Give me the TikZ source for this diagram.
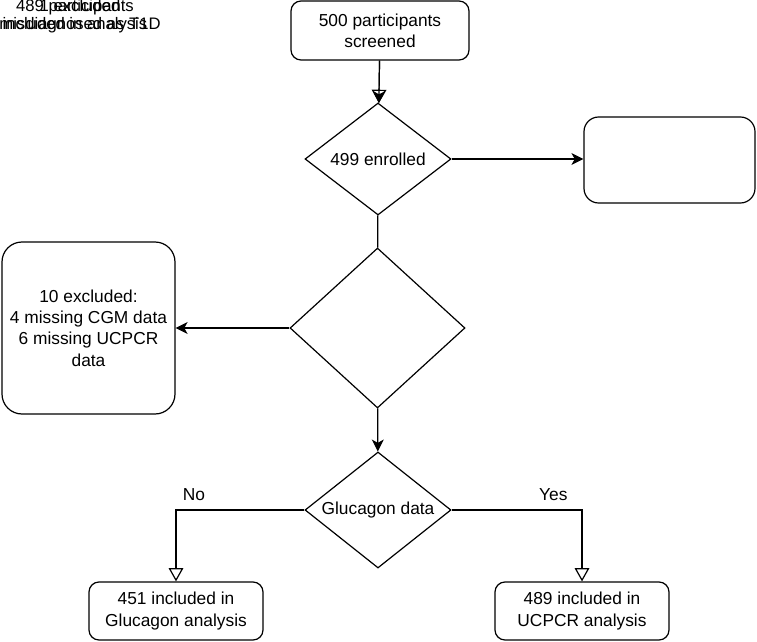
\documentclass[tikz,border=0pt]{standalone}
\usepackage{fontspec}
\setmainfont{Liberation Sans}
\usetikzlibrary{shapes.geometric}
\usetikzlibrary{arrows.meta}

\begin{document}
\begin{tikzpicture}[x=0.75pt, y=-0.75pt, font=\fontsize{13pt}{16pt}\selectfont]
        % ================= 样式定义 =================
        \tikzset{
            box/.style={rectangle, draw=black, line width=0.9pt, rounded corners=7.5pt, align=center, inner sep=0pt},
            dec/.style={diamond, draw=black, line width=0.9pt, aspect=1.3, inner sep=0pt, align=center},
            flow/.style={line width=0.9pt, -{Stealth[length=9pt, width=9pt, inset=2.5pt]}},
            branch/.style={line width=0.9pt, -{Triangle[open, length=10pt, width=11pt]}},
            note/.style={align=center, inner sep=0pt, font=\fontsize{12.5pt}{13.5pt}\selectfont}
        }

        \useasboundingbox (0,0) rectangle (757,642);

        % ================= 左上角:重叠文字 =================
        \node[note] (incl) at (75,16) {489 participants\\included in analysis};
        \node[note] (misd) at (80,16) {1 excluded\\misdiagnosed as T1D};

        % ================= 主干 =================
        \node[box, minimum width=133.5pt, minimum height=44.25pt] (screen) at (380,30.5) {500 participants\\screened};
        \node[dec, minimum width=109.5pt, minimum height=84pt] (enrol) at (378,159) {499 enrolled};
        \node[box, rounded corners=11pt, minimum width=128.25pt, minimum height=64.5pt] (rbox) at (669.5,160) {};
        \node[dec, minimum width=131.25pt, minimum height=120pt] (check) at (377.5,328) {};
        \node[box, rounded corners=15pt, minimum width=129.75pt, minimum height=129pt] (excl) at (88.5,328)
            {10 excluded:\\4 missing CGM data\\6 missing UCPCR\\data};
        \node[dec, minimum width=109.5pt, minimum height=87pt] (gluc) at (378,510) {Glucagon data};

        % ================= 底部两框 =================
        \node[box, minimum width=130.5pt, minimum height=43.5pt] (gana) at (176,611) {451 included in\\Glucagon analysis};
        \node[box, minimum width=130.5pt, minimum height=43.5pt] (uana) at (582,611) {489 included in\\UCPCR analysis};

        % 边
        \draw[branch] (screen) -- (enrol);
        \draw[flow] (screen) -- (enrol);
        \draw[flow] (enrol.east) -- (enrol.east -| rbox.west);
        \draw[line width=0.9pt] (enrol) -- (check);
        \draw[flow] (check.west) -- (check.west -| excl.east);
        \draw[flow] (check) -- (gluc);

        % 分支:No / Yes
        \draw[branch] (gluc.west) -| (gana) node[pos=0.43, above=3pt] {No};
        \draw[branch] (gluc.east) -| (uana) node[pos=0.39, above=3pt] {Yes};

\end{tikzpicture}
\end{document}
